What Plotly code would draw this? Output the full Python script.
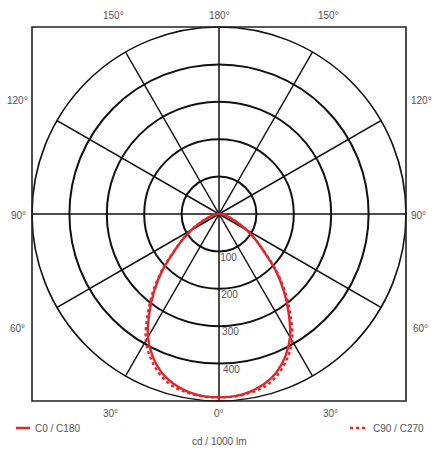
import numpy as np
import plotly.graph_objects as go

# ---- data (cd / 1000 lm vs. gamma angle, 0° = nadir) ----
gamma = [0, 5, 10, 15, 20, 25, 30, 35, 40, 45, 50, 55, 60, 65, 70, 75, 80, 85, 90]
c0_c180 = [490, 489, 482, 470, 450, 420, 380, 325, 270, 215, 158, 118, 85, 55, 35, 22, 14, 8, 3]
c90_c270 = [490, 490, 485, 477, 458, 429, 391, 334, 277, 219, 160, 118, 85, 55, 35, 22, 14, 8, 3]
radial_ticks = [100, 200, 300, 400]
angle_labels = ["0°", "30°", "60°", "90°", "120°", "150°", "180°"]

RED = "#e2262b"
GRID = "#111111"
LABEL = "#555555"
FONT = "Liberation Sans, Arial, sans-serif"

W, H = 440, 454
L, T, S = 32, 27, 374  # plot area left, top, side (square)
RMAX = 500


def px(x):
    return (x - L) / S


def py(y):
    return (T + S - y) / S


def mirrored(g, v):
    # one half-plane on each side (C0 | C180 or C90 | C270)
    th = list(g) + [360 - a for a in reversed(g)]
    r = list(v) + list(reversed(v))
    return th, r


fig = go.Figure()

# spokes every 30°, extended to the square frame
for a in range(0, 360, 30):
    rad = np.deg2rad(a)
    r_end = RMAX / max(abs(np.cos(rad)), abs(np.sin(rad)))
    fig.add_trace(go.Scatterpolar(r=[0, r_end], theta=[a, a], mode="lines",
                                  line=dict(color=GRID, width=1.5),
                                  cliponaxis=False, hoverinfo="skip", showlegend=False))

th0, r0 = mirrored(gamma, c0_c180)
th90, r90 = mirrored(gamma, c90_c270)
fig.add_trace(go.Scatterpolar(r=r90, theta=th90, mode="lines", name="C90 / C270",
                              line=dict(color=RED, width=2.4, dash="dot", shape="spline"),
                              showlegend=False))
fig.add_trace(go.Scatterpolar(r=r0, theta=th0, mode="lines", name="C0 / C180",
                              line=dict(color=RED, width=2.4, shape="spline"),
                              showlegend=False))

# radial tick labels along the 0° spoke
fig.add_trace(go.Scatterpolar(r=[v + 18 for v in radial_ticks], theta=[1.5] * len(radial_ticks),
                              mode="text", text=[str(v) for v in radial_ticks],
                              textposition="middle right",
                              textfont=dict(family=FONT, size=10, color=LABEL),
                              cliponaxis=False, hoverinfo="skip", showlegend=False))

fig.update_layout(
    width=W, height=H,
    margin=dict(l=L, r=W - L - S, t=T, b=H - T - S),
    paper_bgcolor="white", plot_bgcolor="white",
    showlegend=False,
    polar=dict(
        domain=dict(x=[0, 1], y=[0, 1]),
        bgcolor="white",
        radialaxis=dict(range=[0, RMAX], tickvals=radial_ticks + [RMAX], showticklabels=False,
                        ticks="", showline=False, gridcolor=GRID, gridwidth=1.6),
        angularaxis=dict(rotation=270, direction="counterclockwise", showgrid=False,
                         showticklabels=False, ticks="", showline=True,
                         linecolor=GRID, linewidth=1.6),
    ),
)

# square frame
fig.add_shape(type="rect", xref="paper", yref="paper", x0=0, x1=1, y0=0, y1=1,
              line=dict(color="#222222", width=1.6), layer="above")

# angle labels outside the frame
label_pos = [
    ("150°", 113, 15), ("180°", 219, 15), ("150°", 328, 15),
    ("120°", 17, 100), ("90°", 18, 215), ("60°", 17, 328),
    ("120°", 421, 100), ("90°", 419, 215), ("60°", 420, 328),
    ("30°", 110, 414), ("0°", 219, 414), ("30°", 330, 414),
]
for txt, x, y in label_pos:
    fig.add_annotation(text=txt, x=px(x), y=py(y), xref="paper", yref="paper",
                       showarrow=False, xanchor="center", yanchor="middle",
                       font=dict(family=FONT, size=10, color=LABEL))

# legend
fig.add_shape(type="line", xref="paper", yref="paper", x0=px(16), x1=px(30), y0=py(428), y1=py(428),
              line=dict(color=RED, width=2.5))
fig.add_annotation(text="C0 / C180", x=px(33), y=py(428), xref="paper", yref="paper",
                   showarrow=False, xanchor="left", yanchor="middle",
                   font=dict(family=FONT, size=10, color=LABEL))
fig.add_shape(type="line", xref="paper", yref="paper", x0=px(350), x1=px(367), y0=py(428), y1=py(428),
              line=dict(color=RED, width=2.5, dash="dot"))
fig.add_annotation(text="C90 / C270", x=px(371), y=py(428), xref="paper", yref="paper",
                   showarrow=False, xanchor="left", yanchor="middle",
                   font=dict(family=FONT, size=10, color=LABEL))
fig.add_annotation(text="cd / 1000 lm", x=px(219), y=py(441), xref="paper", yref="paper",
                   showarrow=False, xanchor="center", yanchor="middle",
                   font=dict(family=FONT, size=10, color=LABEL))

fig.write_html("out.html", config={"displayModeBar": False},
               post_script="document.body.style.margin='0';document.body.style.overflow='hidden';")
